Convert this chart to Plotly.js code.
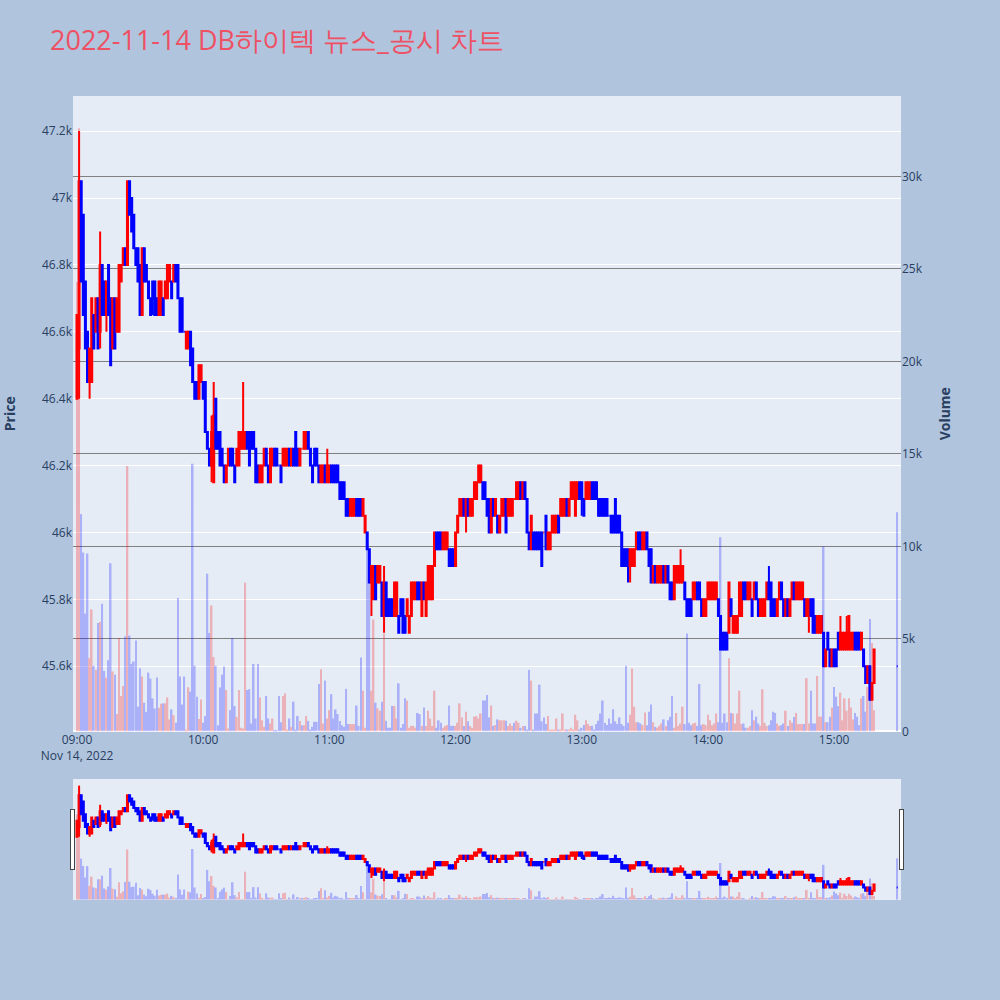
<!DOCTYPE html>
<html>
<head>
<meta charset="utf-8">
<script src="https://cdn.plot.ly/plotly-3.0.1.min.js"></script>
<style>body{margin:0;background:lightsteelblue}</style>
</head>
<body>
<div id="chart" style="width:1000px;height:1000px"></div>
<script>
// 2022-11-14 DB하이텍 1분봉 (09:00 ~ 15:19, 15:30 종가)
var opens = [
 46400,46550,47050,46950,46750,46600,46450,46450,46650,46600,
 46700,46600,46800,46750,46650,46800,46700,46550,46700,46600,
 46600,46750,46800,46850,46800,47050,47000,46950,46850,46850,
 46800,46650,46850,46800,46750,46700,46750,46750,46700,46650,
 46650,46700,46700,46700,46750,46750,46750,46800,46800,46700,
 46700,46600,46550,46550,46600,46550,46450,46450,46400,46450,
 46450,46450,46300,46250,46200,46150,46400,46300,46300,46250,
 46200,46150,46200,46250,46250,46200,46200,46200,46250,46250,
 46250,46300,46300,46300,46300,46250,46200,46150,46150,46200,
 46250,46200,46150,46200,46250,46250,46200,46200,46200,46200,
 46200,46250,46200,46250,46300,46250,46200,46250,46250,46250,
 46300,46250,46200,46250,46250,46200,46150,46150,46200,46150,
 46150,46200,46200,46200,46200,46150,46150,46150,46100,46100,
 46050,46050,46050,46100,46100,46100,46050,46000,46000,45950,
 45850,45800,45900,45850,45850,45850,45750,45850,45800,45800,
 45800,45750,45750,45750,45800,45800,45750,45750,45700,45750,
 45800,45800,45850,45850,45750,45850,45750,45800,45800,45800,
 45900,46000,46000,46000,45950,45950,45950,45950,45950,45950,
 45900,46000,46050,46050,46100,46050,46100,46050,46050,46100,
 46100,46150,46150,46150,46150,46100,46100,46000,46100,46050,
 46050,46000,46050,46050,46100,46050,46050,46050,46100,46100,
 46100,46150,46100,46150,46100,46000,45950,46000,46000,46000,
 46000,46000,46000,46050,45950,45950,46000,46000,46000,46050,
 46050,46050,46050,46100,46050,46100,46100,46050,46100,46150,
 46150,46100,46100,46100,46100,46150,46150,46150,46100,46100,
 46100,46100,46100,46050,46050,46050,46100,46050,46050,46000,
 45950,45950,45950,45900,45900,45900,45950,46000,46000,45950,
 45950,46000,45950,45950,45850,45900,45850,45850,45850,45900,
 45850,45900,45850,45850,45800,45850,45850,45850,45850,45850,
 45800,45800,45800,45800,45800,45850,45850,45800,45750,45750,
 45800,45800,45800,45800,45800,45800,45750,45700,45700,45700,
 45700,45800,45700,45700,45700,45750,45750,45850,45850,45800,
 45800,45800,45800,45850,45800,45750,45750,45750,45800,45850,
 45850,45800,45800,45750,45800,45850,45800,45750,45800,45750,
 45800,45850,45800,45800,45800,45800,45800,45750,45750,45800,
 45800,45750,45700,45700,45700,45700,45600,45700,45650,45600,
 45650,45650,45700,45650,45650,45650,45650,45650,45650,45650,
 45700,45700,45700,45650,45650,45600,45550,45600,45500,45550,
 45600];
var highs = [
 46650,47200,47050,46950,46750,46600,46550,46700,46650,46700,
 46700,46900,46800,46750,46750,46800,46700,46700,46700,46700,
 46800,46800,46850,46850,47050,47050,47000,46950,46850,46850,
 46800,46850,46850,46800,46750,46700,46750,46750,46700,46750,
 46750,46700,46750,46800,46800,46750,46800,46800,46800,46700,
 46700,46600,46600,46600,46600,46550,46450,46450,46500,46500,
 46450,46450,46300,46250,46350,46450,46400,46300,46300,46250,
 46200,46200,46250,46250,46250,46200,46250,46300,46300,46450,
 46300,46300,46300,46300,46300,46250,46200,46200,46200,46250,
 46250,46200,46250,46250,46250,46250,46200,46200,46250,46250,
 46250,46250,46250,46250,46300,46250,46250,46250,46300,46300,
 46300,46250,46200,46250,46250,46200,46200,46200,46200,46250,
 46200,46200,46200,46200,46200,46150,46150,46150,46100,46100,
 46100,46100,46100,46100,46100,46100,46100,46050,46000,45950,
 45900,45900,45900,45900,45900,45850,45900,45850,45800,45800,
 45800,45850,45850,45750,45800,45800,45750,45800,45750,45850,
 45850,45850,45850,45850,45850,45850,45850,45900,45900,45900,
 46000,46000,46000,46000,46000,46000,46000,45950,45950,45950,
 46000,46050,46100,46100,46100,46100,46100,46100,46100,46150,
 46150,46200,46200,46150,46150,46100,46100,46100,46100,46100,
 46050,46050,46100,46100,46100,46100,46100,46100,46100,46150,
 46150,46150,46150,46150,46100,46000,46050,46000,46000,46000,
 46000,46000,46000,46050,46000,46000,46050,46050,46050,46050,
 46100,46100,46100,46100,46100,46150,46150,46150,46150,46150,
 46150,46100,46150,46150,46150,46150,46150,46150,46100,46100,
 46100,46100,46100,46050,46050,46050,46100,46050,46050,46000,
 45950,45950,45950,45950,45950,45950,46000,46000,46000,46000,
 46000,46000,45950,45950,45900,45900,45900,45900,45900,45900,
 45900,45900,45850,45850,45900,45900,45900,45950,45900,45850,
 45800,45800,45800,45850,45850,45850,45850,45800,45800,45800,
 45850,45850,45850,45850,45850,45800,45750,45700,45700,45700,
 45850,45800,45750,45750,45750,45850,45850,45850,45850,45850,
 45850,45800,45850,45850,45800,45800,45800,45800,45850,45900,
 45850,45800,45800,45800,45850,45850,45800,45800,45800,45800,
 45850,45850,45850,45850,45850,45850,45800,45800,45800,45800,
 45800,45750,45750,45750,45750,45700,45650,45700,45650,45650,
 45650,45650,45700,45750,45700,45700,45750,45750,45700,45700,
 45700,45700,45700,45700,45650,45600,45600,45600,45550,45650,
 45600];
var lows = [
 46400,46400,46750,46650,46550,46450,46400,46450,46550,46600,
 46550,46550,46650,46650,46600,46650,46500,46550,46550,46600,
 46600,46750,46800,46800,46800,46950,46900,46850,46800,46750,
 46650,46650,46750,46750,46700,46650,46650,46650,46650,46650,
 46650,46650,46700,46700,46750,46700,46750,46750,46700,46600,
 46600,46600,46550,46550,46500,46450,46400,46400,46400,46450,
 46400,46300,46250,46200,46150,46150,46250,46250,46200,46200,
 46150,46150,46200,46200,46200,46150,46200,46200,46250,46250,
 46250,46250,46200,46250,46250,46150,46150,46150,46150,46200,
 46200,46150,46150,46200,46200,46200,46200,46150,46200,46200,
 46200,46200,46200,46200,46200,46200,46200,46250,46250,46250,
 46250,46200,46150,46200,46200,46150,46150,46150,46150,46150,
 46150,46150,46150,46150,46150,46100,46100,46100,46050,46050,
 46050,46050,46050,46050,46050,46050,46050,46000,45950,45850,
 45750,45800,45800,45850,45850,45750,45700,45750,45750,45750,
 45750,45750,45750,45700,45750,45700,45700,45750,45700,45750,
 45800,45800,45800,45800,45750,45800,45750,45800,45800,45800,
 45900,45950,45950,45950,45950,45950,45950,45900,45900,45900,
 45900,46000,46050,46050,46050,46000,46050,46050,46050,46100,
 46100,46150,46150,46100,46100,46050,46000,46000,46050,46050,
 46000,46000,46050,46050,46000,46050,46050,46050,46100,46100,
 46100,46100,46100,46100,46000,45950,45950,45950,45950,45950,
 45950,45900,46000,45950,45950,45950,46000,46000,46000,46000,
 46050,46050,46050,46050,46050,46100,46100,46050,46100,46100,
 46050,46050,46100,46100,46100,46100,46100,46100,46050,46050,
 46050,46050,46050,46050,46000,46000,46000,46000,46000,45900,
 45900,45900,45850,45850,45900,45900,45950,45950,45950,45950,
 45950,45950,45900,45850,45850,45850,45850,45850,45850,45850,
 45850,45850,45800,45800,45800,45850,45850,45850,45850,45800,
 45750,45750,45750,45800,45800,45800,45800,45750,45750,45750,
 45800,45800,45800,45800,45800,45750,45650,45650,45650,45650,
 45700,45750,45700,45700,45700,45750,45750,45800,45800,45800,
 45800,45750,45800,45800,45750,45750,45750,45750,45800,45800,
 45750,45750,45750,45750,45800,45800,45750,45750,45750,45750,
 45800,45800,45800,45800,45800,45800,45750,45750,45700,45750,
 45700,45700,45700,45700,45700,45600,45600,45650,45600,45600,
 45600,45600,45650,45650,45650,45650,45650,45650,45650,45650,
 45650,45650,45650,45650,45600,45550,45550,45500,45500,45550,
 45600];
var closes = [
 46650,47050,46750,46650,46550,46450,46550,46700,46550,46700,
 46550,46800,46650,46650,46750,46650,46500,46700,46550,46700,
 46800,46800,46850,46800,47050,46950,46900,46850,46800,46750,
 46650,46850,46750,46750,46700,46650,46700,46650,46650,46750,
 46750,46650,46750,46800,46800,46700,46800,46750,46700,46600,
 46600,46600,46600,46600,46500,46450,46400,46400,46500,46500,
 46400,46300,46250,46200,46300,46350,46250,46250,46200,46200,
 46150,46200,46250,46200,46200,46150,46250,46300,46300,46300,
 46300,46250,46200,46250,46250,46150,46150,46200,46200,46250,
 46200,46150,46250,46250,46200,46200,46200,46150,46250,46250,
 46250,46200,46250,46200,46200,46200,46250,46250,46300,46300,
 46250,46200,46150,46200,46200,46150,46200,46200,46150,46200,
 46200,46150,46150,46150,46150,46100,46100,46100,46050,46050,
 46100,46100,46100,46050,46050,46050,46100,46050,45950,45850,
 45900,45900,45800,45900,45900,45750,45850,45750,45750,45750,
 45750,45850,45850,45700,45750,45700,45700,45800,45750,45850,
 45850,45850,45800,45800,45850,45800,45850,45900,45900,45900,
 46000,45950,45950,45950,46000,46000,46000,45900,45900,45900,
 46000,46050,46100,46100,46050,46100,46050,46100,46100,46150,
 46150,46200,46200,46100,46100,46050,46000,46100,46050,46100,
 46000,46050,46100,46100,46000,46100,46100,46100,46100,46150,
 46150,46100,46150,46100,46000,45950,46050,45950,45950,45950,
 45950,45900,46000,45950,46000,46000,46050,46050,46050,46000,
 46100,46100,46100,46050,46100,46150,46150,46150,46150,46100,
 46100,46050,46150,46150,46150,46100,46100,46100,46050,46050,
 46050,46050,46050,46050,46000,46000,46000,46000,46000,45900,
 45900,45900,45900,45950,45950,45950,46000,45950,45950,46000,
 46000,45950,45900,45850,45900,45850,45900,45900,45900,45850,
 45900,45850,45800,45800,45900,45900,45900,45900,45900,45800,
 45750,45750,45750,45850,45850,45800,45800,45750,45800,45800,
 45850,45850,45850,45850,45850,45750,45650,45650,45650,45650,
 45850,45750,45750,45750,45750,45850,45850,45800,45800,45850,
 45850,45750,45850,45800,45750,45800,45800,45800,45850,45800,
 45750,45750,45750,45800,45850,45800,45750,45800,45750,45800,
 45850,45800,45850,45850,45850,45850,45750,45800,45800,45750,
 45700,45700,45750,45750,45750,45600,45650,45650,45600,45650,
 45600,45600,45650,45700,45700,45700,45700,45750,45700,45700,
 45650,45650,45650,45700,45600,45550,45600,45500,45550,45650,
 45600];
var volumes = [
 24300,32600,11750,9670,6370,9620,3960,6600,3550,3330,
 5860,5920,6900,3270,2910,3850,9090,3240,3060,940,
 5050,1920,2460,5140,14350,5180,3650,3780,4920,1330,
 3420,2970,1550,1060,3180,2860,1790,1240,2910,1280,
 1500,1520,1520,1840,650,1190,880,470,7220,2970,
 1460,2970,100,2390,2150,14470,3550,1880,670,1730,
 470,830,8530,5320,6810,4020,3550,340,2370,3060,
 3510,2240,160,1150,5050,1370,790,2240,200,160,
 8040,2240,2280,430,3650,700,3650,1840,610,250,
 1920,700,430,700,70,70,1920,500,1920,2060,
 100,700,250,1610,100,830,570,340,340,830,
 570,100,250,520,520,2570,3360,430,2750,700,
 1150,2020,700,1190,940,570,340,250,2300,400,
 400,400,400,1400,300,4000,2200,200,10500,9500,
 2200,6050,1560,1250,1120,1600,5300,580,200,200,
 1380,1380,700,2600,200,400,1800,1670,200,300,
 300,200,1000,940,300,1300,300,1120,700,300,
 2200,200,600,470,200,300,350,1400,300,300,
 300,470,1520,760,300,1070,550,300,200,800,
 830,700,970,1670,1670,1970,760,1400,300,350,
 650,600,600,600,580,300,430,300,470,580,
 470,200,300,300,100,3330,2750,100,970,970,
 2530,550,760,400,830,100,100,100,700,100,
 100,970,100,100,100,200,100,900,600,100,
 200,350,600,400,300,300,100,400,580,970,
 1670,470,350,700,430,1200,550,400,760,400,
 300,3550,470,900,3400,1340,500,500,430,340,
 1030,340,1070,1460,500,250,200,300,430,650,
 300,600,800,1920,200,1000,300,430,1340,400,
 5290,470,340,430,470,300,2570,340,400,340,
 900,600,340,430,970,500,10500,470,970,500,
 3960,1000,970,430,970,2200,400,430,200,200,
 300,1150,600,800,430,300,2280,470,300,340,
 600,1070,1000,430,300,340,430,1120,300,600,
 470,780,1000,400,400,400,400,2880,430,2200,
 430,430,3000,800,800,10000,500,500,800,1300,
 2400,1880,1370,2100,600,1790,1120,1790,1300,650,
 1000,800,340,1790,1920,1070,2400,6080,4780,1150,
 11850];

// 분 단위 시각 (09:00 부터 15:19 까지 + 15:30 동시호가)
function stamp(m) {
    var hh = 9 + Math.floor(m / 60), mm = m % 60;
    return '2022-11-14 ' + (hh < 10 ? '0' : '') + hh + ':' + (mm < 10 ? '0' : '') + mm;
}
var times = [];
for (i = 0; i < 380; i++) times.push(stamp(i));
times.push(stamp(390));

// 거래량 색은 봉 방향에 맞춤
var barColors = closes.map(function (c, k) { return c > opens[k] ? 'red' : 'blue'; });

var candle = {
    type: 'candlestick', x: times, open: opens, high: highs, low: lows, close: closes,
    increasing: {line: {color: 'red'}, fillcolor: 'red'},
    decreasing: {line: {color: 'blue'}, fillcolor: 'blue'},
    name: 'Price', yaxis: 'y'
};
var volume = {
    type: 'bar', x: times, y: volumes, yaxis: 'y2', name: 'Volume',
    marker: {color: barColors}, opacity: 0.25
};

var xRange = ['2022-11-14 08:58:06', '2022-11-14 15:31:48'];
var layout = {
    width: 1000, height: 1000,
    title: {text: '2022-11-14 DB하이텍 뉴스_공시 차트', x: 0.05, y: 0.959, yanchor: 'middle',
            font: {size: 27, color: 'rgb(238,80,100)'}},
    font: {family: '"Open Sans", verdana, arial, sans-serif', color: '#2a3f5f', size: 12},
    paper_bgcolor: 'lightsteelblue',
    plot_bgcolor: '#E5ECF6',
    showlegend: false,
    margin: {l: 73, r: 99, t: 96, b: 100},
    xaxis: {type: 'date', range: xRange, showgrid: false, zeroline: false,
            rangeslider: {visible: true, range: xRange, bgcolor: '#E5ECF6', thickness: 0.15}},
    yaxis: {title: {text: '<b>Price</b>', font: {size: 14}, standoff: 24},
            domain: [0.004, 1], range: [45405, 47305],
            gridcolor: 'white', zeroline: false},
    yaxis2: {title: {text: '<b>Volume</b>', font: {size: 14}, standoff: 18},
             overlaying: 'y', side: 'right',
             range: [0, 34350], gridcolor: 'gray', zerolinecolor: 'white', zerolinewidth: 2}
};

Plotly.newPlot('chart', [candle, volume], layout, {displayModeBar: false});
</script>
</body>
</html>
